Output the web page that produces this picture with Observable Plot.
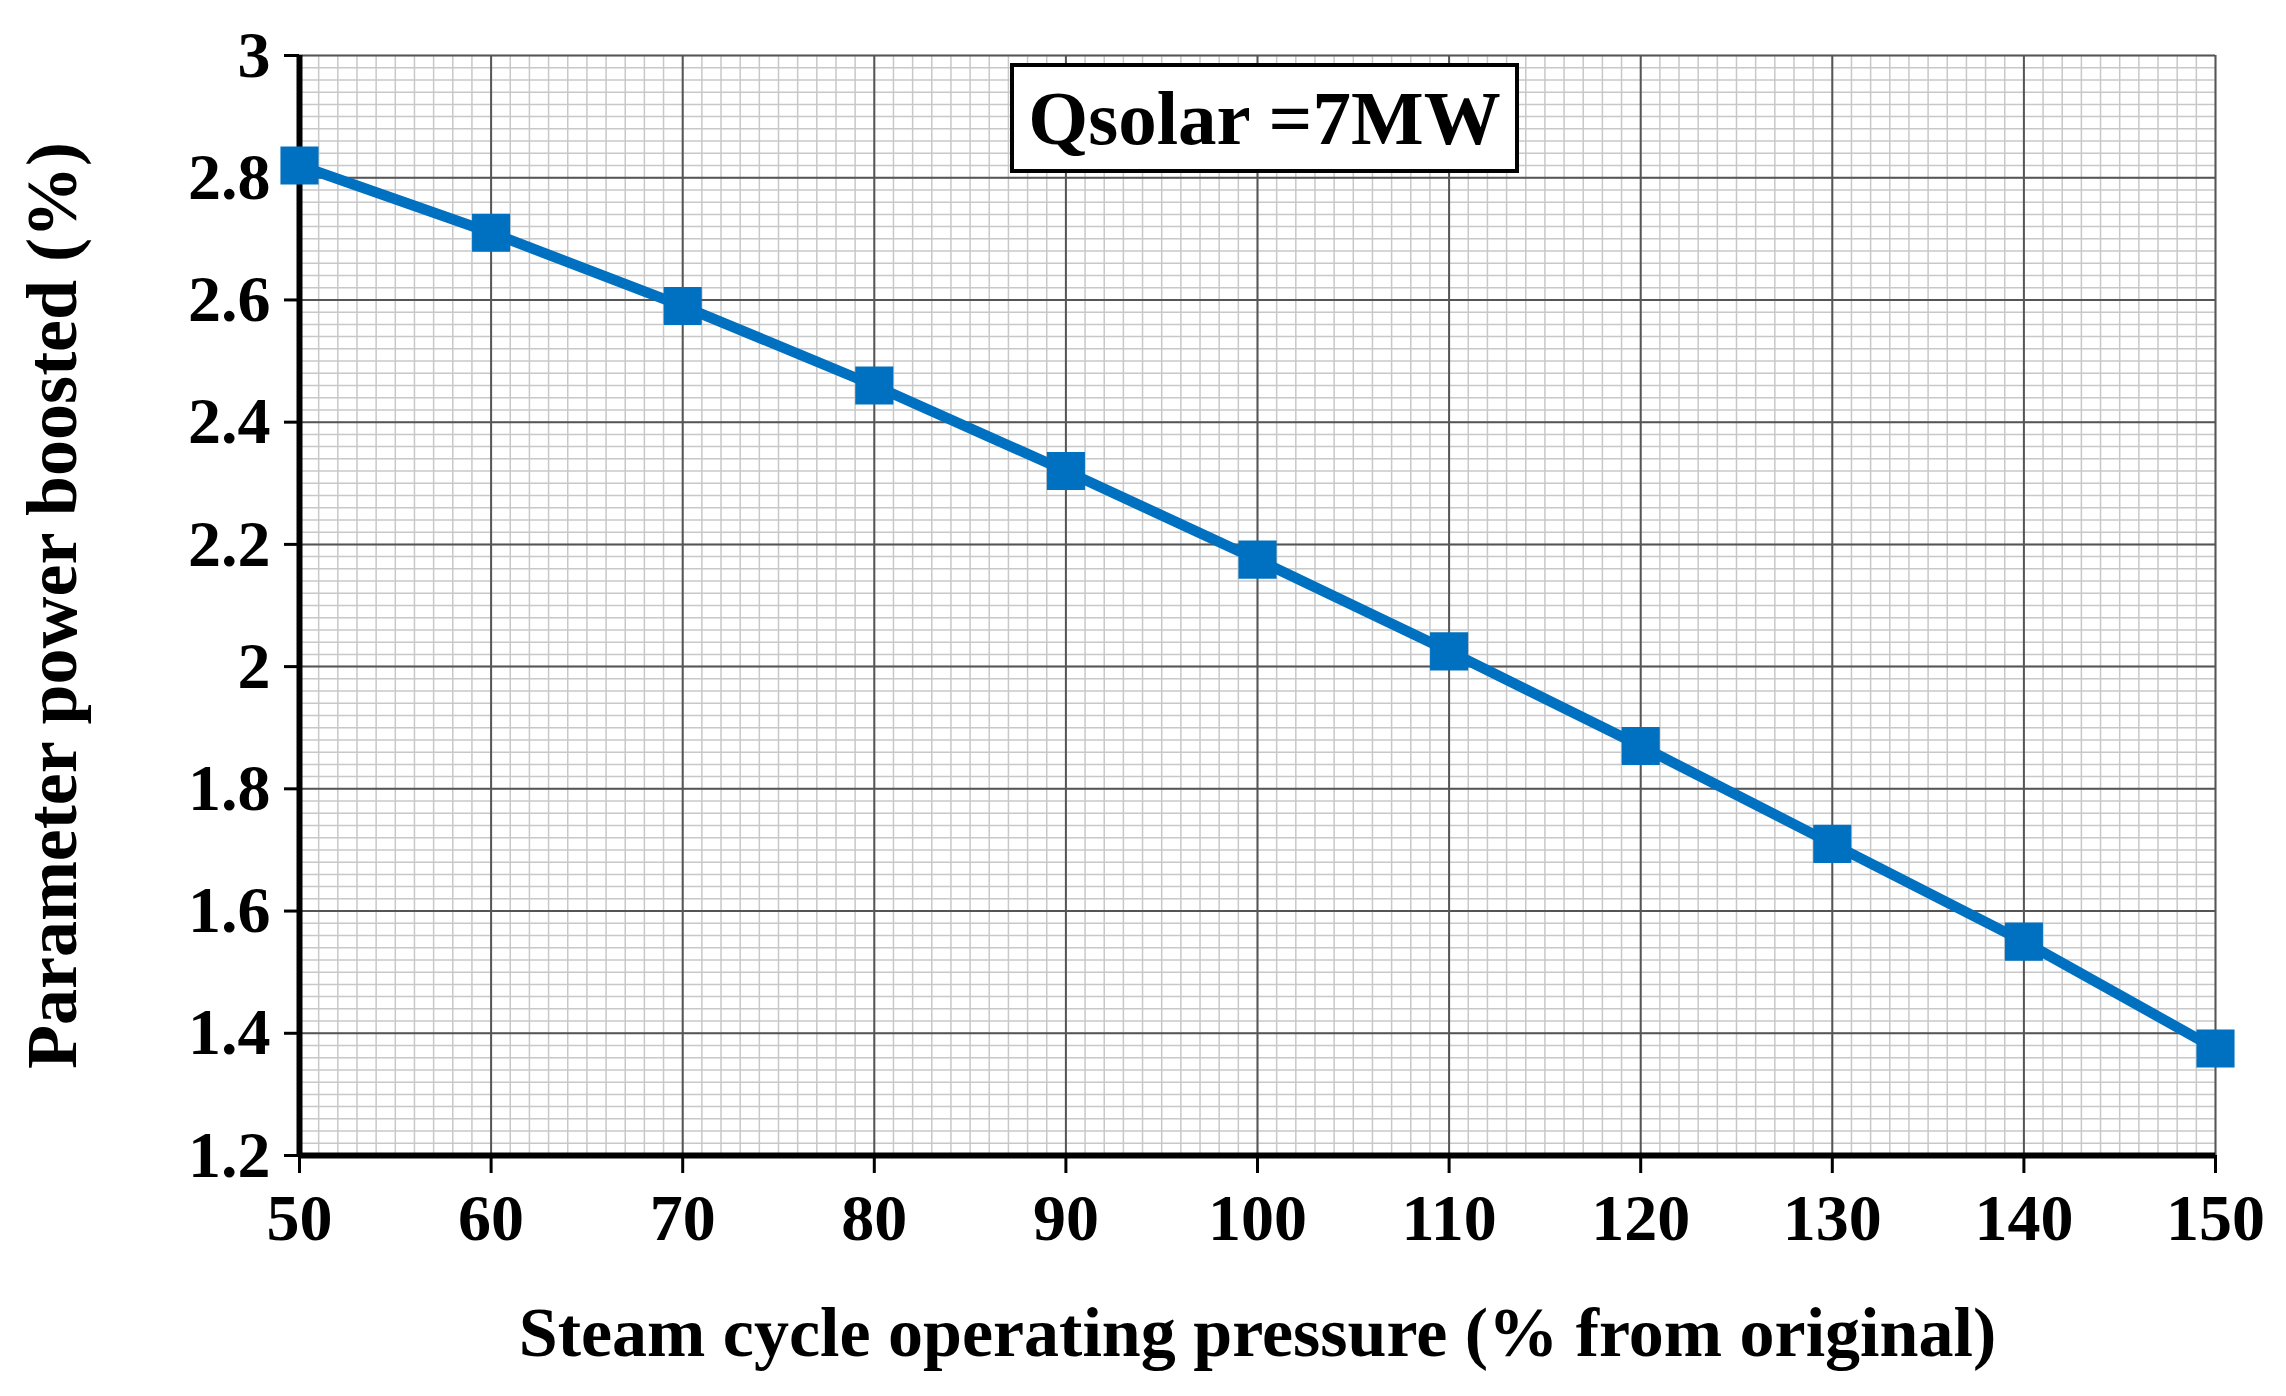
<!DOCTYPE html>
<html>
<head>
<meta charset="utf-8">
<script src="https://cdn.jsdelivr.net/npm/d3@7"></script>
<script src="https://cdn.jsdelivr.net/npm/@observablehq/plot@0.6"></script>
<style>
  body { margin: 0; background: #fff; }
  #chart { position: relative; width: 2286px; height: 1396px; }
  #note {
    position: absolute; left: 1010px; top: 63px; width: 501px; height: 102px;
    border: 4px solid #000; background: #fff;
    font: bold 77px "Liberation Serif", serif; color: #000;
    display: flex; align-items: center; justify-content: center;
  }
</style>
</head>
<body>
<div id="chart"><div id="note">Qsolar =7MW</div></div>
<script>
// pressure (% of original) vs boosted power (%)
const pressure = [50, 60, 70, 80, 90, 100, 110, 120, 130, 140, 150]
const boosted = [2.82, 2.71, 2.59, 2.46, 2.32, 2.175, 2.025, 1.87, 1.71, 1.55, 1.375]
const xTicks = [50, 60, 70, 80, 90, 100, 110, 120, 130, 140, 150]
const yTicks = [1.2, 1.4, 1.6, 1.8, 2, 2.2, 2.4, 2.6, 2.8, 3]

const data = pressure.map((p, i) => ({ p, v: boosted[i] }))
const minorX = d3.range(50, 151, 1)
const minorY = d3.range(0, 91).map(i => 1.2 + i * 0.02)

const chart = Plot.plot({
    width: 2286,
    height: 1396,
    marginLeft: 299,
    marginRight: 71,
    marginTop: 55,
    marginBottom: 241,
    x: { domain: [50, 150] },
    y: { domain: [1.2, 3] },
    style: { fontFamily: "'Liberation Serif', serif", fontWeight: "bold", color: "#000", background: "#fff" },
    marks: [
        Plot.gridX(minorX, { stroke: "#c8c8c8", strokeOpacity: 1, strokeWidth: 1.5 }),
        Plot.gridY(minorY, { stroke: "#c8c8c8", strokeOpacity: 1, strokeWidth: 1.5 }),
        Plot.gridX(xTicks, { stroke: "#555", strokeOpacity: 1, strokeWidth: 2 }),
        Plot.gridY(yTicks, { stroke: "#555", strokeOpacity: 1, strokeWidth: 2 }),
        Plot.axisX({
            ticks: xTicks, tickSize: 18, tickPadding: 20, fontSize: 66, strokeWidth: 3,
            label: "Steam cycle operating pressure (% from original)",
            labelAnchor: "center", labelArrow: "none", labelOffset: 200
        }),
        Plot.axisY({
            ticks: yTicks, tickSize: 15, tickPadding: 14, fontSize: 66, strokeWidth: 3,
            tickFormat: d => String(+d.toFixed(1)),
            label: "Parameter power boosted (%)",
            labelAnchor: "center", labelArrow: "none", labelOffset: 275
        }),
        Plot.ruleX([50], { stroke: "#000", strokeWidth: 6 }),
        Plot.ruleY([1.2], { stroke: "#000", strokeWidth: 6 }),
        Plot.line(data, { x: "p", y: "v", stroke: "#0070c0", strokeWidth: 10.5 }),
        Plot.dot(data, { x: "p", y: "v", symbol: "square", r: 21.5, fill: "#0070c0" })
    ]
})

// axis titles are a little larger than the tick labels
chart.querySelectorAll("[aria-label='x-axis label'] text").forEach(t => t.setAttribute("font-size", 70))
chart.querySelectorAll("[aria-label='y-axis label'] text").forEach(t => t.setAttribute("font-size", 72))

document.getElementById('chart').prepend(chart)
</script>
</body>
</html>
